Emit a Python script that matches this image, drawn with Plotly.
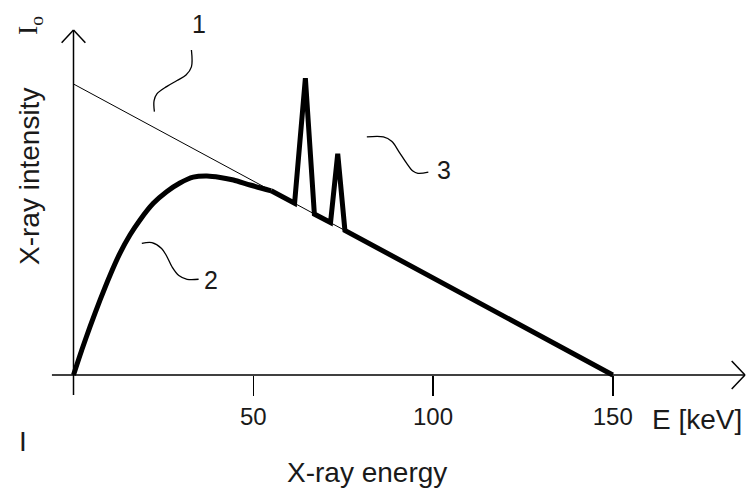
import plotly.graph_objects as go

# ---------------- data ----------------
# Measured spectrum (curve 2): smooth bremsstrahlung rise ...
rise_E = [0, 2.3, 4.6, 7.4, 10.2, 12.9, 15.7, 18.5, 22.2, 25.9, 29.6, 33.3, 37.1,
          40.8, 44.5, 49.1, 55]
rise_I = [0, 8.6, 16.6, 25.8, 34.4, 41.8, 48.1, 53.3, 59, 63, 66, 68, 68.4,
          67.9, 67, 65.3, 63.3]
# ... then the characteristic lines (3) and the linear tail
tail_E = [55, 61.5, 64.5, 67, 71.5, 73.5, 75.5, 150]
tail_I = [63.3, 59, 102, 55.3, 52.4, 76, 49.7, 0]

# Unfiltered (Kramers) spectrum, curve 1
kramers_E = [0, 150]
kramers_I = [100, 0]

# Leader squiggles for labels 1, 2, 3
leader1_E = [32.8, 32.8, 31.3, 28.8, 25.9, 23.2, 22.4, 22.5]
leader1_I = [111.7, 105.9, 103.1, 101.2, 99.1, 96.6, 94.2, 90.5]
leader2_E = [19.0, 21.8, 24.5, 25.9, 27.4, 29.3, 31.6, 34.8]
leader2_I = [45.2, 45.5, 43.5, 40.9, 37.2, 34.2, 32.9, 32.9]
leader3_E = [81.6, 86.2, 88.5, 90.5, 92.6, 94.4, 95.8, 98.7]
leader3_I = [81.8, 81.8, 80.3, 76.8, 72.9, 70.1, 69.3, 69.7]

tick_vals = [50, 100, 150]
tick_text = ["50", "100", "150"]

# ---------------- layout constants ----------------
W, H = 747, 493
X0_PX, Y0_PX = 73.5, 375.0      # pixel position of origin
SX, SY = 3.595, 2.91            # pixels per unit
TICK_PX = 20
x_range = [-X0_PX / SX, (W - X0_PX) / SX]
y_range = [-(H - Y0_PX) / SY, Y0_PX / SY]

x_axis_start = -6.0
x_axis_end = (745 - X0_PX) / SX
y_axis_top = (Y0_PX - 30) / SY
y_axis_bottom = -TICK_PX / SY
arm_dx, arm_dy = 3.7, 4.8       # x-arrow arm size (data units)
yarm_dx, yarm_dy = 3.3, 4.4     # y-arrow arm size

FONT = "Liberation Sans, Arial, sans-serif"
TXT = "#1a1a1a"

fig = go.Figure()

# Kramers line (thin)
fig.add_trace(go.Scatter(x=kramers_E, y=kramers_I, mode="lines",
                         line=dict(color="black", width=1), hoverinfo="skip"))
# measured spectrum (thick)
fig.add_trace(go.Scatter(x=rise_E, y=rise_I, mode="lines",
                         line=dict(color="black", width=5, shape="spline", smoothing=0.7),
                         hoverinfo="skip"))
fig.add_trace(go.Scatter(x=tail_E, y=tail_I, mode="lines",
                         line=dict(color="black", width=5), hoverinfo="skip"))
# leaders
for lx, ly in [(leader1_E, leader1_I), (leader2_E, leader2_I), (leader3_E, leader3_I)]:
    fig.add_trace(go.Scatter(x=lx, y=ly, mode="lines",
                             line=dict(color="black", width=1.3, shape="spline"),
                             hoverinfo="skip"))

# axis lines and arrows (shapes, in data coordinates)
ln = dict(color="black", width=1.5)
shapes = [
    dict(type="line", x0=x_axis_start, y0=0, x1=x_axis_end, y1=0, line=ln),
    dict(type="line", x0=x_axis_end - arm_dx, y0=arm_dy, x1=x_axis_end, y1=0, line=ln),
    dict(type="line", x0=x_axis_end - arm_dx, y0=-arm_dy, x1=x_axis_end, y1=0, line=ln),
    dict(type="line", x0=0, y0=y_axis_bottom, x1=0, y1=y_axis_top, line=ln),
    dict(type="line", x0=-yarm_dx, y0=y_axis_top - yarm_dy, x1=0, y1=y_axis_top, line=ln),
    dict(type="line", x0=yarm_dx, y0=y_axis_top - yarm_dy, x1=0, y1=y_axis_top, line=ln),
]
for s in shapes:
    s.update(xref="x", yref="y", layer="above")

def px2x(p):
    return (p - X0_PX) / SX

def py2y(p):
    return (Y0_PX - p) / SY

annotations = [
    dict(text="1", x=px2x(199), y=py2y(24), font=dict(size=25)),
    dict(text="2", x=px2x(211), y=py2y(280), font=dict(size=25)),
    dict(text="3", x=px2x(444), y=py2y(170), font=dict(size=25)),
    dict(text="E [keV]", x=px2x(697), y=py2y(419), font=dict(size=28)),
    dict(text="X-ray energy", x=px2x(367), y=py2y(472), font=dict(size=28)),
    dict(text="X-ray intensity", x=px2x(29), y=py2y(177), font=dict(size=28), textangle=-90),
    dict(text="I<sub>o</sub>", x=px2x(29), y=py2y(26), textangle=-90,
         font=dict(size=28, family="Liberation Serif, serif")),
    dict(text="I", x=px2x(23), y=py2y(441), font=dict(size=28)),
]
for a in annotations:
    a.update(xref="x", yref="y", showarrow=False, xanchor="center", yanchor="middle")
    a["font"].setdefault("family", FONT)
    a["font"]["color"] = TXT

fig.update_layout(
    width=W, height=H, autosize=False,
    margin=dict(l=0, r=0, t=0, b=0, pad=0),
    paper_bgcolor="white", plot_bgcolor="white",
    showlegend=False,
    shapes=shapes, annotations=annotations,
    xaxis=dict(range=x_range, domain=[0, 1], anchor="free", position=(H - Y0_PX) / H,
               showgrid=False, zeroline=False, showline=False,
               tickmode="array", tickvals=tick_vals, ticktext=tick_text,
               ticks="outside", ticklen=TICK_PX, tickwidth=1.5, tickcolor="black",
               tickfont=dict(family=FONT, size=24, color=TXT),
               ticklabelstandoff=0, fixedrange=True),
    yaxis=dict(range=y_range, domain=[0, 1], visible=False, fixedrange=True),
)

fig.write_html(
    "out.html",
    config={"staticPlot": True},
    post_script="document.body.style.margin='0';document.body.style.padding='0';"
                "document.body.style.overflow='hidden';",
)
